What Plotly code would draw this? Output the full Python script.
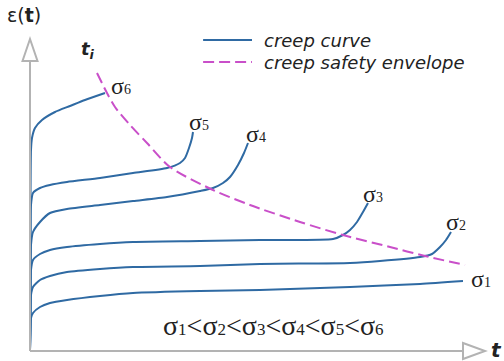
import plotly.graph_objects as go

# creep curves: time (t) and strain (eps), arbitrary units
t_s1 = [0, 0.5, 1, 3, 10, 20, 37, 70, 103, 170, 230, 320, 390, 433]
eps_s1 = [0, 20, 32, 37, 43, 47, 50, 54, 57, 59, 60, 63, 66, 69]

t_s2 = [0, 0.5, 1, 3, 10, 20, 37, 70, 103, 170, 230, 320, 350, 390, 402, 410, 416, 421]
eps_s2 = [0, 30, 55, 63, 70, 74, 78, 81, 83, 84, 86, 87, 89, 93, 96, 103, 110, 118]

t_s3 = [0, 0.5, 1, 3, 10, 20, 37, 70, 103, 170, 230, 303, 313, 320, 327, 333, 338]
eps_s3 = [0, 50, 80, 90, 96, 100, 103, 106, 108, 109, 110, 111, 115, 120, 128, 138, 147]

t_s4 = [0, 0.5, 1, 3, 10, 20, 37, 70, 103, 137, 170, 183, 193, 200, 208, 214, 218]
eps_s4 = [0, 70, 105, 118, 128, 137, 141, 145, 149, 153, 159, 162, 167, 173, 185, 197, 207]

t_s5 = [0, 0.5, 1, 3, 10, 20, 37, 70, 103, 137, 150, 155, 159, 162, 163]
eps_s5 = [0, 100, 145, 157, 162, 165, 168, 172, 177, 182, 187, 192, 202, 212, 218]

t_s6 = [0, 0.5, 1, 2, 5, 12, 25, 40, 55, 75]
eps_s6 = [0, 150, 200, 212, 222, 230, 238, 244, 250, 257]

# creep safety envelope
t_env = [67, 77, 85, 100, 117, 140, 183, 220, 270, 313, 360, 395, 435]
eps_env = [277, 257, 243, 225, 207, 183, 160, 145, 128, 115, 103, 94, 85]

curves = [(t_s1, eps_s1), (t_s2, eps_s2), (t_s3, eps_s3),
          (t_s4, eps_s4), (t_s5, eps_s5), (t_s6, eps_s6)]
label_t = [439, 414, 331, 214, 157, 79]
label_eps = [71, 128, 156, 216, 228, 264]

legend_names = ["creep curve", "creep safety envelope"]

BLUE = "#2f6aa3"
MAGENTA = "#c94fc9"
GRAY = "#b3b3b3"
SANS = "'DejaVu Sans', sans-serif"
SERIF = "'Liberation Serif', 'DejaVu Serif', serif"


def sigma(i, digit_px):
    # subscript digits sit on the baseline, just smaller
    return f"σ<span style='font-size:{digit_px}px'>{i}</span>"


fig = go.Figure()

for t, eps in curves:
    fig.add_trace(go.Scatter(
        x=t, y=eps, mode="lines",
        line=dict(color=BLUE, width=2, shape="spline", smoothing=0.6),
        showlegend=False, hoverinfo="skip",
    ))

fig.add_trace(go.Scatter(
    x=t_env, y=eps_env, mode="lines",
    line=dict(color=MAGENTA, width=2, dash="11px,5px", shape="spline", smoothing=0.8),
    showlegend=False, hoverinfo="skip",
))

# sigma labels at the end of each curve
for i in range(6):
    fig.add_annotation(
        x=label_t[i], y=label_eps[i], text=sigma(i + 1, 14),
        showarrow=False, xanchor="left", yanchor="middle",
        font=dict(family=SERIF, size=24, color="#222"),
    )

fig.add_annotation(
    x=243, y=25, showarrow=False,
    text="<".join(sigma(i, 17) for i in range(1, 7)),
    font=dict(family=SERIF, size=28, color="#222"),
)

# axis labels
fig.add_annotation(x=-6, y=335, text="ε(<b>t</b>)", showarrow=False,
                   font=dict(family=SANS, size=19, color="#222"))
fig.add_annotation(x=58, y=300, text="<b><i>t<sub>i</sub></i></b>", showarrow=False,
                   font=dict(family=SANS, size=18, color="#222"))
fig.add_annotation(x=466, y=0, text="<b><i>t</i></b>", showarrow=False,
                   font=dict(family=SANS, size=20, color="#222"))

# hand-drawn legend (lines + italic labels)
fig.add_shape(type="line", xref="paper", yref="paper", x0=0.403, x1=0.500,
              y0=1 - 40 / 361, y1=1 - 40 / 361, line=dict(color=BLUE, width=2))
fig.add_shape(type="line", xref="paper", yref="paper", x0=0.403, x1=0.500,
              y0=1 - 62 / 361, y1=1 - 62 / 361,
              line=dict(color=MAGENTA, width=2, dash="11px,5px"))
for k, name in enumerate(legend_names):
    fig.add_annotation(
        xref="paper", yref="paper", x=0.520, y=1 - (40 + 22 * k) / 361,
        xanchor="left", yanchor="middle", showarrow=False,
        text=f"<i>{name}</i>",
        font=dict(family=SANS, size=18, color="#222"),
    )

# axes drawn as gray lines with open triangle heads
fig.add_shape(type="line", x0=0, y0=-1, x1=0, y1=289,
              line=dict(color=GRAY, width=2))
fig.add_shape(type="path", path="M -7.5 289 L 0 311 L 7.5 289 Z",
              line=dict(color=GRAY, width=2), fillcolor="white")
fig.add_shape(type="line", x0=0, y0=-1, x1=433, y1=-1,
              line=dict(color=GRAY, width=2))
fig.add_shape(type="path", path="M 433 -9 L 455 -1 L 433 7 Z",
              line=dict(color=GRAY, width=2), fillcolor="white")

fig.update_layout(
    width=504, height=361,
    margin=dict(l=0, r=0, t=0, b=0),
    paper_bgcolor="white", plot_bgcolor="white",
    showlegend=False,
    xaxis=dict(range=[-30, 474], visible=False, fixedrange=True),
    yaxis=dict(range=[-11, 350], visible=False, fixedrange=True),
)

# drop the default 8px body margin so the figure fills the window exactly
fig.write_html("out.html", config={"displayModeBar": False},
               post_script="document.body.style.margin='0';")
